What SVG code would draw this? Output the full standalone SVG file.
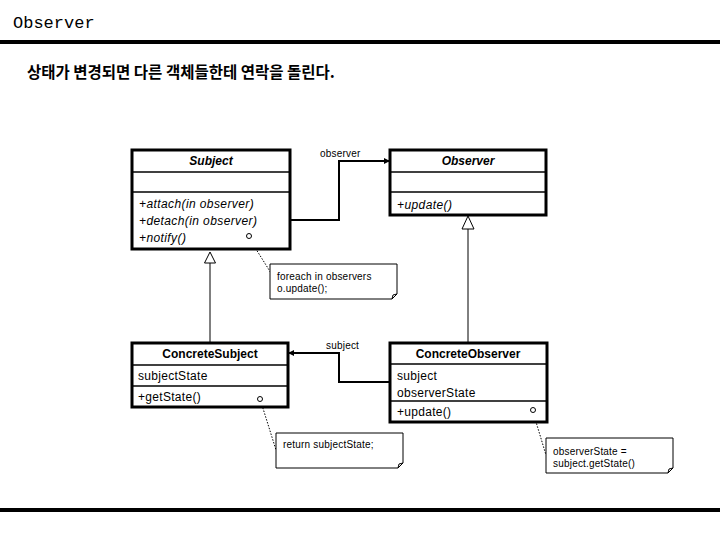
<svg xmlns="http://www.w3.org/2000/svg" width="720" height="540" viewBox="0 0 720 540">
<style>
.box{fill:#fff;stroke:#000;stroke-width:3}
.div{stroke:#000;stroke-width:1.5}
.t{font-family:"Liberation Sans",Arial,sans-serif;font-size:12px;fill:#000}
.it{font-style:italic;letter-spacing:0.4px}
.hd{font-family:"Liberation Sans",Arial,sans-serif;font-size:12px;font-weight:bold;text-anchor:middle}
.note{fill:#fff;stroke:#000;stroke-width:1}
.nt{font-family:"Liberation Sans",Arial,sans-serif;font-size:10px;letter-spacing:0.2px}
.dot{stroke:#000;stroke-width:1;stroke-dasharray:1.5 1.5;fill:none}
.lol{fill:#fff;stroke:#000;stroke-width:1}
.conn{fill:none;stroke:#000;stroke-width:2}
.gen{fill:none;stroke:#000;stroke-width:1}
.tri{fill:#fff;stroke:#000;stroke-width:1}
</style>
<defs>
<marker id="arr" markerWidth="6" markerHeight="6" refX="5" refY="3" orient="auto" markerUnits="userSpaceOnUse">
<path d="M0,0 L6,3 L0,6 z" fill="#000"/>
</marker>
</defs>
<rect width="720" height="540" fill="#fff"/>
<text x="13" y="28" font-family="Liberation Mono,monospace" font-size="17">Observer</text>
<rect x="0" y="40" width="720" height="4" fill="#000"/>
<text x="27" y="78" font-family="'Noto Sans CJK KR',sans-serif" font-size="15.5" font-weight="bold">상태가 변경되면 다른 객체들한테 연락을 돌린다.</text>
<rect x="0" y="508" width="720" height="4" fill="#000"/>

<g id="connectors">
<path class="conn" d="M290,220 H339 V161 H389" marker-end="url(#arr)"/>
<text x="320" y="157" class="nt">observer</text>
<path class="conn" d="M390,382 H339 V353 H289" marker-end="url(#arr)"/>
<text x="326" y="349" class="nt">subject</text>
<line class="gen" x1="210" y1="263" x2="210" y2="342"/>
<polygon class="tri" points="210,252 204.5,263 215.5,263"/>
<line class="gen" x1="468" y1="229" x2="468" y2="342"/>
<polygon class="tri" points="468,216 462,229 474,229"/>
<line class="dot" x1="249" y1="238" x2="271" y2="273"/>
<line class="dot" x1="261" y1="402" x2="276" y2="450"/>
<line class="dot" x1="533" y1="412" x2="546" y2="455"/>
</g>

<g id="Subject">
<rect class="box" x="132" y="150" width="158" height="99"/>
<line class="div" x1="132" y1="172" x2="290" y2="172"/>
<line class="div" x1="132" y1="192" x2="290" y2="192"/>
<text x="211" y="165" class="hd" font-style="italic">Subject</text>
<text x="139" y="208" class="t it">+attach(in observer)</text>
<text x="139" y="225" class="t it">+detach(in observer)</text>
<text x="139" y="242" class="t it">+notify()</text>
<circle class="lol" cx="249" cy="236" r="2.5"/>
</g>

<g id="Observer">
<rect class="box" x="390" y="150" width="156" height="65"/>
<line class="div" x1="390" y1="172" x2="546" y2="172"/>
<line class="div" x1="390" y1="192" x2="546" y2="192"/>
<text x="468" y="165" class="hd" font-style="italic">Observer</text>
<text x="397" y="209" class="t it">+update()</text>
</g>

<g id="ConcreteSubject">
<rect class="box" x="132" y="343" width="156" height="64"/>
<line class="div" x1="132" y1="365" x2="288" y2="365"/>
<line class="div" x1="132" y1="386" x2="288" y2="386"/>
<text x="210" y="358" class="hd">ConcreteSubject</text>
<text x="138" y="380" class="t" letter-spacing="0.3">subjectState</text>
<text x="138" y="401" class="t" letter-spacing="0.3">+getState()</text>
<circle class="lol" cx="260" cy="399" r="2.5"/>
</g>

<g id="ConcreteObserver">
<rect class="box" x="390" y="343" width="157" height="79"/>
<line class="div" x1="390" y1="364" x2="547" y2="364"/>
<line class="div" x1="390" y1="401" x2="547" y2="401"/>
<text x="468" y="358" class="hd">ConcreteObserver</text>
<text x="397" y="380" class="t" letter-spacing="0.3">subject</text>
<text x="397" y="397" class="t" letter-spacing="0.3">observerState</text>
<text x="397" y="416" class="t" letter-spacing="0.3">+update()</text>
<circle class="lol" cx="533" cy="410" r="2.5"/>
</g>

<g id="note1">
<path class="note" d="M270,264 H397 V294 L392,299 H270 Z M392,299 L393,295 L397,294"/>
<text x="277" y="280" class="nt">foreach in observers</text>
<text x="277" y="292" class="nt">o.update();</text>
</g>

<g id="note2">
<path class="note" d="M276,433 H403 V463 L398,468 H276 Z M398,468 L399,464 L403,463"/>
<text x="283" y="448" class="nt">return subjectState;</text>
</g>

<g id="note3">
<path class="note" d="M546,438 H673 V468 L668,473 H546 Z M668,473 L669,469 L673,468"/>
<text x="553" y="455" class="nt">observerState =</text>
<text x="553" y="467" class="nt">subject.getState()</text>
</g>
</svg>
